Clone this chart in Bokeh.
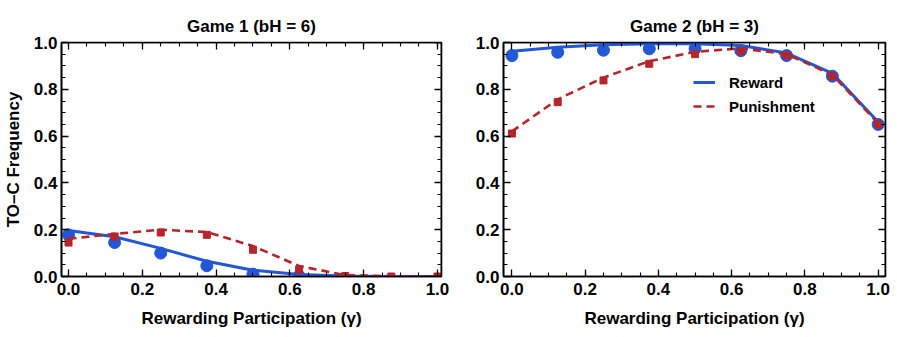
from bokeh.plotting import figure
from bokeh.layouts import row
from bokeh.models import (LinearAxis, FixedTicker, NumeralTickFormatter, Range1d,
                          Legend, LegendItem, CustomJSTickFormatter)
from bokeh.embed import file_html
from bokeh.resources import INLINE

NaN = float("nan")

# ---------------- data ----------------
gamma = [0.0, 0.125, 0.25, 0.375, 0.5, 0.625, 0.75, 0.875, 1.0]

g1_reward_pts = [0.178, 0.145, 0.100, 0.046, 0.010, 0.002, NaN, NaN, NaN]
g1_reward_fit = [0.197, 0.170, 0.120, 0.065, 0.027, 0.009, 0.002, 0.0, 0.0]
g1_punish_pts = [0.145, 0.171, 0.188, 0.178, 0.114, 0.029, 0.002, 0.0, 0.0]
g1_punish_fit = [0.161, 0.182, 0.200, 0.190, 0.130, 0.045, 0.006, 0.001, 0.0]

g2_reward_pts = [0.944, 0.958, 0.967, 0.973, 0.974, 0.965, 0.944, 0.856, 0.650]
g2_reward_fit = [0.963, 0.980, 0.990, 0.995, 0.995, 0.987, 0.955, 0.868, 0.660]
g2_punish_pts = [0.611, 0.745, 0.838, 0.909, 0.950, 0.963, 0.944, 0.856, 0.650]
g2_punish_fit = [0.620, 0.757, 0.850, 0.920, 0.960, 0.975, 0.950, 0.862, 0.655]

major_ticks = [0.0, 0.2, 0.4, 0.6, 0.8, 1.0]
minor_ticks = [i * 0.05 for i in range(21)]

BLUE = "#2257d6"
RED = "#b5252a"
FONT = "Liberation Sans"


def style_axis(ax, show_labels=True):
    ax.ticker = FixedTicker(ticks=major_ticks, minor_ticks=minor_ticks)
    ax.major_tick_in = 7
    ax.major_tick_out = 0
    ax.minor_tick_in = 4
    ax.minor_tick_out = 0
    ax.major_tick_line_color = "black"
    ax.minor_tick_line_color = "black"
    ax.major_tick_line_width = 1.3
    ax.minor_tick_line_width = 1.1
    ax.axis_line_color = "black"
    ax.axis_line_width = 1.6
    ax.major_label_text_font = FONT
    ax.major_label_text_font_style = "bold"
    ax.major_label_text_font_size = "17px"
    ax.major_label_text_color = "black"
    ax.axis_label_text_font = FONT
    ax.axis_label_text_font_style = "bold"
    ax.axis_label_text_font_size = "17px"
    ax.axis_label_text_color = "black"
    if show_labels:
        ax.formatter = NumeralTickFormatter(format="0.0")
    else:
        ax.formatter = CustomJSTickFormatter(code="return ''")
        ax.major_label_standoff = 0


def make_panel(title, rp, rf, pp, pf, width, left, top, bottom, right, ylabel, xr,
               legend, title_standoff):
    p = figure(width=width, height=337, output_backend="svg", toolbar_location=None,
               x_range=Range1d(*xr), y_range=Range1d(0.0, 1.0),
               min_border_left=left, min_border_right=right,
               min_border_top=top, min_border_bottom=bottom)
    p.title.text = title
    p.title.align = "center"
    p.title.text_font = FONT
    p.title.text_font_style = "bold"
    p.title.text_font_size = "17px"
    p.title.text_color = "black"
    p.title.standoff = title_standoff
    p.grid.visible = False
    p.outline_line_color = "black"
    p.outline_line_width = 1.6
    p.background_fill_color = "white"
    p.border_fill_color = "white"

    style_axis(p.xaxis[0])
    style_axis(p.yaxis[0])
    p.xaxis[0].axis_label = "Rewarding Participation (γ)"
    p.xaxis[0].major_label_standoff = 6
    p.xaxis[0].axis_label_standoff = 11
    p.yaxis[0].major_label_standoff = 4
    if ylabel:
        p.yaxis[0].axis_label = ylabel
        p.yaxis[0].axis_label_standoff = 8

    top_ax = LinearAxis(fixed_location=1.0)
    style_axis(top_ax, show_labels=False)
    p.add_layout(top_ax, "above")
    right_ax = LinearAxis(fixed_location=xr[1])
    style_axis(right_ax, show_labels=False)
    p.add_layout(right_ax, "right")

    rl = p.line(gamma, rf, line_color=BLUE, line_width=3)
    p.scatter(gamma, rp, marker="circle", size=12, fill_color=BLUE, line_color=BLUE)
    pl = p.line(gamma, pf, line_color=RED, line_width=2.6, line_dash="8 5")
    p.scatter(gamma, pp, marker="square", size=7, fill_color=RED, line_color=RED)

    if legend:
        lg = Legend(items=[LegendItem(label="Reward", renderers=[rl]),
                           LegendItem(label="Punishment", renderers=[pl])],
                    location=(190, 160), padding=0, margin=0, spacing=4,
                    glyph_width=22, glyph_height=20, label_height=20,
                    label_standoff=14, border_line_color=None,
                    background_fill_alpha=0,
                    label_text_font=FONT, label_text_font_style="bold",
                    label_text_font_size="15px", label_text_color="black")
        p.add_layout(lg, "center")
    return p


p1 = make_panel("Game 1 (bH = 6)", g1_reward_pts, g1_reward_fit, g1_punish_pts, g1_punish_fit,
                450, 61, 42, 61, 9, "TO–C Frequency", (-0.019, 1.011), False, 13)
p2 = make_panel("Game 2 (bH = 3)", g2_reward_pts, g2_reward_fit, g2_punish_pts, g2_punish_fit,
                447, 53, 42, 61, 12, None, (-0.023, 1.02), True, 13)

layout = row(p1, p2)
open("out.html", "w").write(file_html(layout, INLINE))
